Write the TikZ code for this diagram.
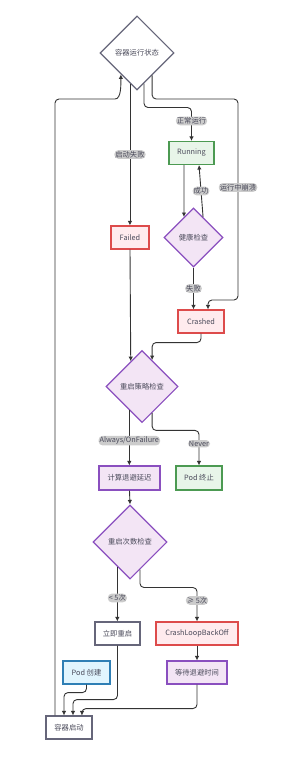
\documentclass[tikz,border=0pt]{standalone}
\usepackage{fontspec}
\setmainfont{Noto Sans CJK SC}
\usetikzlibrary{shapes.geometric,arrows.meta}

\definecolor{textgray}{HTML}{4A4A5A}
\definecolor{linegray}{HTML}{333333}
\definecolor{labelgray}{HTML}{CCCCCC}
\definecolor{slateline}{HTML}{66667A}
\definecolor{greenfill}{HTML}{E8F5E9}
\definecolor{greenline}{HTML}{4C9A52}
\definecolor{redfill}{HTML}{FFEBEE}
\definecolor{redline}{HTML}{DD4B4B}
\definecolor{bluefill}{HTML}{E1F5FE}
\definecolor{blueline}{HTML}{2F7FB5}
\definecolor{purplefill}{HTML}{F3E5F5}
\definecolor{purpleline}{HTML}{8A4FBF}

\begin{document}
\begin{tikzpicture}[x=1pt,y=1pt,
  every node/.style={font=\fontsize{7.3}{8}\selectfont, text=textgray},
  box/.style={draw=slateline, fill=white, line width=1.1pt, minimum height=23pt, inner sep=2pt},
  okbox/.style={box, draw=greenline, fill=greenfill},
  badbox/.style={box, draw=redline, fill=redfill},
  infobox/.style={box, draw=blueline, fill=bluefill},
  waitbox/.style={box, draw=purpleline, fill=purplefill},
  decide/.style={diamond, aspect=1, draw=purpleline, fill=purplefill, line width=1.1pt, inner sep=0pt},
  flow/.style={draw=linegray, line width=0.9pt, rounded corners=4pt, -{Latex[length=4.5pt,width=4.5pt]}},
  elabel/.style={fill=labelgray, inner sep=1pt, text=textgray}]

\useasboundingbox (0,0) rectangle (287,-759);

% Decisions
\node[decide, draw=slateline, fill=white, minimum size=74pt] (state) at (137,-53) {容器运行状态};
\node[decide, minimum size=59pt] (health) at (193.5,-237.5) {健康检查};
\node[decide, minimum size=72pt] (policy) at (142,-386.5) {重启策略检查};
\node[decide, minimum size=74pt] (count) at (130,-542) {重启次数检查};

% States and actions
\node[okbox, minimum width=45pt] (running) at (191.5,-153) {Running};
\node[badbox, minimum width=38pt] (failed) at (130,-237.5) {Failed};
\node[badbox, minimum width=46pt] (crashed) at (201,-321.5) {Crashed};
\node[waitbox, minimum width=61pt, minimum height=24pt] (delay) at (129.5,-478) {计算退避延迟};
\node[okbox, minimum width=46pt, minimum height=24pt] (podend) at (199,-478) {Pod 终止};
\node[box, minimum width=45pt] (restart) at (117.5,-633.5) {立即重启};
\node[badbox, minimum width=82pt] (loopoff) at (197,-633.5) {CrashLoopBackOff};
\node[infobox, minimum width=47pt] (podnew) at (86.5,-672.5) {Pod 创建};
\node[waitbox, minimum width=60pt] (waitoff) at (197,-672.5) {等待退避时间};
\node[box, minimum width=46pt] (start) at (69,-727.5) {容器启动};

% Out of the running state check
\draw[flow] ([xshift=-14pt]start.north) |- (111,-99) to[out=0,in=-90] (state.233);
\draw[flow] (state.257) -- node[elabel] {启动失败} (state.257 |- failed.north);
\draw[flow] (state.283) -- ++(0,-24) -| node[elabel, pos=0.7] {正常运行} (running.north);
\draw[flow] (state.304) |- (238,-99) -- node[elabel, pos=0.44] {运行中崩溃} (238,-300) -| ([xshift=7pt]crashed.north);

% Health check loop
\draw[flow] ([xshift=-7.5pt]running.south) -- (health.115);
\draw[flow] (health.65) -- node[elabel] {成功} ([xshift=7.5pt]running.south);
\draw[flow] (health.south) -- node[elabel] {失败} (health.south |- crashed.north);

% Restart policy
\draw[flow] (failed.south) -- (policy.114);
\draw[flow] (crashed.south) -- ++(0,-9) -| (policy.69);
\draw[flow] (policy.242) -- node[elabel, pos=0.55] {Always/OnFailure} (policy.242 |- delay.north);
\draw[flow] (policy.291) -- ++(0,-17.5) -| node[elabel, pos=0.69] {Never} (podend.north);

% Restart count
\draw[flow] (delay.south) -- (count.north);
\draw[flow] (count.243) -- node[elabel, pos=0.57] {< 5次} (count.243 |- restart.north);
\draw[flow] (count.290) -- ++(0,-18) -| node[elabel, pos=0.69] {≥ 5次} (loopoff.north);
\draw[flow] (loopoff.south) -- (waitoff.north);

% Back into the container start
\draw[flow] (podnew.south) -- ++(0,-8) -| ([xshift=-5pt]start.north);
\draw[flow] (restart.south) -- ++(0,-54) -| ([xshift=4pt]start.north);
\draw[flow] (waitoff.south) -- ++(0,-24) -| ([xshift=13pt]start.north);
\end{tikzpicture}
\end{document}
